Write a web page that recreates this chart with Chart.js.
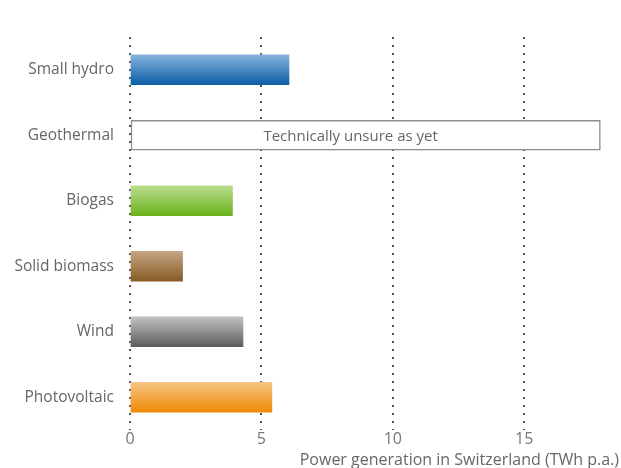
<!DOCTYPE html>
<html>
<head>
<meta charset="utf-8">
<script src="https://cdn.jsdelivr.net/npm/chart.js@4/dist/chart.umd.min.js"></script>
<style>
html,body{margin:0;padding:0;background:#fff;}
#wrap{width:621px;height:468px;position:relative;}
</style>
</head>
<body>
<div id="wrap"><canvas id="c" width="621" height="468"></canvas></div>
<script>
const categories = ["Small hydro", "Geothermal", "Biogas", "Solid biomass", "Wind", "Photovoltaic"];
const potentialTWh = [6.05, 17.9, 3.9, 2.0, 4.3, 5.4];
const xTicks = [0, 5, 10, 15];
const gradientTop = ["#86b3dc", null, "#b8dc8e", "#c4a684", "#c2c2c2", "#f7c584"];
const gradientBottom = ["#0b5ea6", null, "#6cb31c", "#875a25", "#5c5c5c", "#ee8a06"];
const annotationText = "Technically unsure as yet";
const axisTitle = "Power generation in Switzerland (TWh p.a.)";

const FONT = "'Open Sans', 'DejaVu Sans', sans-serif";

function barFill(ctx) {
  const i = ctx.dataIndex;
  const chart = ctx.chart;
  if (gradientTop[i] === null) return "#ffffff";
  const ys = chart.scales && chart.scales.y;
  if (!ys || !chart.chartArea) return gradientBottom[i];
  const yc = ys.getPixelForValue(i);
  const g = chart.ctx.createLinearGradient(0, yc - 15, 0, yc + 15);
  g.addColorStop(0, gradientTop[i]);
  g.addColorStop(1, gradientBottom[i]);
  return g;
}

const annotatePlugin = {
  id: "annotate",
  afterDatasetsDraw(chart) {
    const ctx = chart.ctx;
    const meta = chart.getDatasetMeta(0);
    const idx = categories.indexOf("Geothermal");
    const el = meta.data[idx];
    if (!el) return;
    ctx.save();
    ctx.font = "15px " + FONT;
    ctx.fillStyle = "#666";
    ctx.textAlign = "left";
    ctx.textBaseline = "middle";
    ctx.fillText(annotationText, chart.scales.x.getPixelForValue(5) + 2, el.y + 1);
    ctx.restore();
  },
  afterDraw(chart) {
    const ctx = chart.ctx;
    ctx.save();
    ctx.font = "16px " + FONT;
    ctx.fillStyle = "#666";
    ctx.textAlign = "right";
    ctx.textBaseline = "middle";
    ctx.fillText(axisTitle, chart.width - 2, 460);
    ctx.restore();
  }
};

new Chart(document.getElementById("c"), {
  type: "bar",
  data: {
    labels: categories,
    datasets: [{
      data: potentialTWh,
      backgroundColor: barFill,
      borderColor: (ctx) => gradientTop[ctx.dataIndex] === null ? "#8c8c8c" : "rgba(255,255,255,0)",
      borderWidth: (ctx) => gradientTop[ctx.dataIndex] === null ? 1.5 : 0,
      borderSkipped: false,
      barThickness: 30
    }]
  },
  plugins: [annotatePlugin],
  options: {
    indexAxis: "y",
    responsive: false,
    animation: false,
    devicePixelRatio: 1,
    layout: { padding: { top: 37, right: 18, left: 0, bottom: 0 } },
    plugins: { legend: { display: false }, tooltip: { enabled: false }, title: { display: false } },
    scales: {
      x: {
        type: "linear",
        min: 0,
        max: 18,
        afterBuildTicks(axis) { axis.ticks = xTicks.map(v => ({ value: v })); },
        afterFit(axis) { axis.height = 38; },
        border: { display: false, dash: [2, 6] },
        grid: {
          color: "#555",
          lineWidth: 2,
          drawTicks: false
        },
        ticks: { color: "#777", font: { family: FONT, size: 16 }, padding: 0 },
        title: { display: false }
      },
      y: {
        afterFit(axis) { axis.width = 130; },
        border: { display: false },
        grid: { display: false },
        ticks: { color: "#666", font: { family: FONT, size: 15.5 }, padding: 8 }
      }
    }
  }
});
const ch = Chart.getChart("c");
ch.options.scales.x.grid.borderDash = [2, 6];
ch.update();
</script>
</body>
</html>
